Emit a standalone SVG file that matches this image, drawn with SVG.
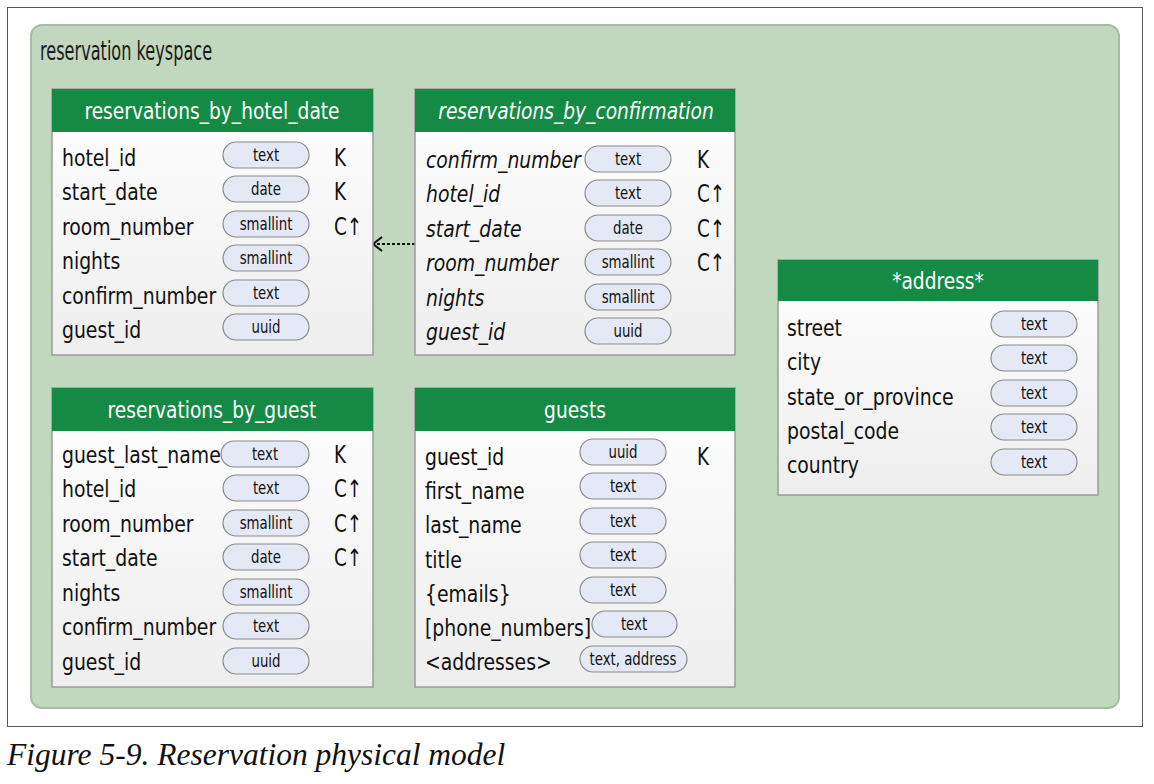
<svg xmlns="http://www.w3.org/2000/svg" width="1154" height="784" viewBox="0 0 1154 784">
<style>
.frame{fill:#fff;stroke:#555;stroke-width:1}
.ks{fill:#c1d7be;stroke:#a9bba6;stroke-width:2}
.body{fill:url(#bg);stroke:#9c9c9c;stroke-width:1.5}
.hdr{fill:#148a45}
text{transform-box:fill-box}
.ht{font-family:"DejaVu Sans Condensed","Liberation Sans",sans-serif;font-size:23px;fill:#fff;text-anchor:middle;transform-origin:50% 50%;transform:scaleX(0.9)}
.f{font-family:"DejaVu Sans Condensed","Liberation Sans",sans-serif;font-size:23px;fill:#111;transform-origin:0% 50%;transform:scaleX(0.91)}
.i{font-style:italic}
.kst{font-family:"DejaVu Sans Condensed","Liberation Sans",sans-serif;font-size:26px;fill:#1a1a1a;transform-origin:0% 50%;transform:scaleX(0.69)}
.pill{fill:#e5e9f5;stroke:#8a8a8a;stroke-width:1.2}
.pt{font-family:"DejaVu Sans Condensed","Liberation Sans",sans-serif;font-size:17px;fill:#111;text-anchor:middle;transform-origin:50% 50%;transform:scaleX(0.87)}
.k{font-family:"DejaVu Sans Condensed","Liberation Sans",sans-serif;font-size:24px;fill:#111;transform-origin:0% 50%;transform:scaleX(0.85)}
.cap{font-family:"Liberation Serif",serif;font-style:italic;font-size:31.5px;fill:#111}
.conn{fill:none;stroke:#111;stroke-width:2;stroke-dasharray:3 2}
</style>
<defs>
<linearGradient id="bg" x1="0" y1="0" x2="0" y2="1"><stop offset="0" stop-color="#ffffff"/><stop offset="1" stop-color="#eeeeee"/></linearGradient>
<marker id="open" viewBox="0 0 12 18" refX="10.5" refY="9" markerWidth="12" markerHeight="18" markerUnits="userSpaceOnUse" orient="auto"><path d="M1.5 2 L10.5 9 L1.5 16" fill="none" stroke="#111" stroke-width="2.2"/></marker>
</defs>
<rect class="frame" x="7.5" y="7.5" width="1135" height="719"/>
<g id="keyspace">
<rect class="ks" x="31" y="25" width="1088" height="683" rx="11"/>
<text class="kst" x="40" y="60">reservation keyspace</text>
</g>
<g id="connectors">
<line class="conn" x1="415" y1="244" x2="373" y2="244" marker-end="url(#open)"/>
</g>
<g id="reservations_by_hotel_date">
<rect class="body" x="52" y="89" width="321" height="266"/>
<rect class="hdr" x="52" y="89" width="321" height="43"/>
<text class="ht" x="212" y="119">reservations_by_hotel_date</text>
<text class="f" x="62" y="166">hotel_id</text>
<text class="f" x="62" y="200">start_date</text>
<text class="f" x="62" y="235">room_number</text>
<text class="f" x="62" y="269">nights</text>
<text class="f" x="62" y="304">confirm_number</text>
<text class="f" x="62" y="338">guest_id</text>
<rect class="pill" x="223" y="142" width="86" height="26" rx="13"/><text class="pt" x="266" y="161">text</text>
<rect class="pill" x="223" y="176" width="86" height="26" rx="13"/><text class="pt" x="266" y="195">date</text>
<rect class="pill" x="223" y="211" width="86" height="26" rx="13"/><text class="pt" x="266" y="230">smallint</text>
<rect class="pill" x="223" y="245" width="86" height="26" rx="13"/><text class="pt" x="266" y="264">smallint</text>
<rect class="pill" x="223" y="280" width="86" height="26" rx="13"/><text class="pt" x="266" y="299">text</text>
<rect class="pill" x="223" y="314" width="86" height="26" rx="13"/><text class="pt" x="266" y="333">uuid</text>
<text class="k" x="334" y="166">K</text>
<text class="k" x="334" y="200">K</text>
<text class="k" x="334" y="235">C↑</text>
</g>
<g id="reservations_by_confirmation">
<rect class="body" x="415" y="89" width="320" height="266"/>
<rect class="hdr" x="415" y="89" width="320" height="43"/>
<text class="ht i" x="576" y="119">reservations_by_confirmation</text>
<text class="f i" x="426" y="168">confirm_number</text>
<text class="f i" x="426" y="202">hotel_id</text>
<text class="f i" x="426" y="237">start_date</text>
<text class="f i" x="426" y="271">room_number</text>
<text class="f i" x="426" y="306">nights</text>
<text class="f i" x="426" y="340">guest_id</text>
<rect class="pill" x="585" y="146" width="86" height="26" rx="13"/><text class="pt" x="628" y="165">text</text>
<rect class="pill" x="585" y="180" width="86" height="26" rx="13"/><text class="pt" x="628" y="199">text</text>
<rect class="pill" x="585" y="215" width="86" height="26" rx="13"/><text class="pt" x="628" y="234">date</text>
<rect class="pill" x="585" y="249" width="86" height="26" rx="13"/><text class="pt" x="628" y="268">smallint</text>
<rect class="pill" x="585" y="284" width="86" height="26" rx="13"/><text class="pt" x="628" y="303">smallint</text>
<rect class="pill" x="585" y="318" width="86" height="26" rx="13"/><text class="pt" x="628" y="337">uuid</text>
<text class="k" x="697" y="168">K</text>
<text class="k" x="697" y="202">C↑</text>
<text class="k" x="697" y="237">C↑</text>
<text class="k" x="697" y="271">C↑</text>
</g>
<g id="reservations_by_guest">
<rect class="body" x="52" y="388" width="321" height="299"/>
<rect class="hdr" x="52" y="388" width="321" height="43"/>
<text class="ht" x="212" y="418">reservations_by_guest</text>
<text class="f" x="62" y="463">guest_last_name</text>
<text class="f" x="62" y="497">hotel_id</text>
<text class="f" x="62" y="532">room_number</text>
<text class="f" x="62" y="566">start_date</text>
<text class="f" x="62" y="601">nights</text>
<text class="f" x="62" y="635">confirm_number</text>
<text class="f" x="62" y="670">guest_id</text>
<rect class="pill" x="221" y="441" width="88" height="26" rx="13"/><text class="pt" x="265" y="460">text</text>
<rect class="pill" x="223" y="475" width="86" height="26" rx="13"/><text class="pt" x="266" y="494">text</text>
<rect class="pill" x="223" y="510" width="86" height="26" rx="13"/><text class="pt" x="266" y="529">smallint</text>
<rect class="pill" x="223" y="544" width="86" height="26" rx="13"/><text class="pt" x="266" y="563">date</text>
<rect class="pill" x="223" y="579" width="86" height="26" rx="13"/><text class="pt" x="266" y="598">smallint</text>
<rect class="pill" x="223" y="613" width="86" height="26" rx="13"/><text class="pt" x="266" y="632">text</text>
<rect class="pill" x="223" y="648" width="86" height="26" rx="13"/><text class="pt" x="266" y="667">uuid</text>
<text class="k" x="334" y="463">K</text>
<text class="k" x="334" y="497">C↑</text>
<text class="k" x="334" y="532">C↑</text>
<text class="k" x="334" y="566">C↑</text>
</g>
<g id="guests">
<rect class="body" x="415" y="388" width="320" height="299"/>
<rect class="hdr" x="415" y="388" width="320" height="43"/>
<text class="ht" x="575" y="418">guests</text>
<text class="f" x="425" y="465">guest_id</text>
<text class="f" x="425" y="499">first_name</text>
<text class="f" x="425" y="533">last_name</text>
<text class="f" x="425" y="568">title</text>
<text class="f" x="425" y="602">{emails}</text>
<text class="f" x="425" y="636">[phone_numbers]</text>
<text class="f" x="425" y="670">&lt;addresses&gt;</text>
<rect class="pill" x="580" y="439" width="86" height="26" rx="13"/><text class="pt" x="623" y="458">uuid</text>
<rect class="pill" x="580" y="473" width="86" height="26" rx="13"/><text class="pt" x="623" y="492">text</text>
<rect class="pill" x="580" y="508" width="86" height="26" rx="13"/><text class="pt" x="623" y="527">text</text>
<rect class="pill" x="580" y="542" width="86" height="26" rx="13"/><text class="pt" x="623" y="561">text</text>
<rect class="pill" x="580" y="577" width="86" height="26" rx="13"/><text class="pt" x="623" y="596">text</text>
<rect class="pill" x="592" y="611" width="85" height="26" rx="13"/><text class="pt" x="634" y="630">text</text>
<rect class="pill" x="580" y="646" width="107" height="26" rx="13"/><text class="pt" x="633" y="665">text, address</text>
<text class="k" x="697" y="465">K</text>
</g>
<g id="address">
<rect class="body" x="778" y="260" width="320" height="235"/>
<rect class="hdr" x="778" y="260" width="320" height="41"/>
<text class="ht" x="938" y="289">*address*</text>
<text class="f" x="787" y="336">street</text>
<text class="f" x="787" y="370">city</text>
<text class="f" x="787" y="405">state_or_province</text>
<text class="f" x="787" y="439">postal_code</text>
<text class="f" x="787" y="473">country</text>
<rect class="pill" x="991" y="311" width="86" height="26" rx="13"/><text class="pt" x="1034" y="330">text</text>
<rect class="pill" x="991" y="345" width="86" height="26" rx="13"/><text class="pt" x="1034" y="364">text</text>
<rect class="pill" x="991" y="380" width="86" height="26" rx="13"/><text class="pt" x="1034" y="399">text</text>
<rect class="pill" x="991" y="414" width="86" height="26" rx="13"/><text class="pt" x="1034" y="433">text</text>
<rect class="pill" x="991" y="449" width="86" height="26" rx="13"/><text class="pt" x="1034" y="468">text</text>
</g>
<text class="cap" x="7" y="765">Figure 5-9. Reservation physical model</text>
</svg>
